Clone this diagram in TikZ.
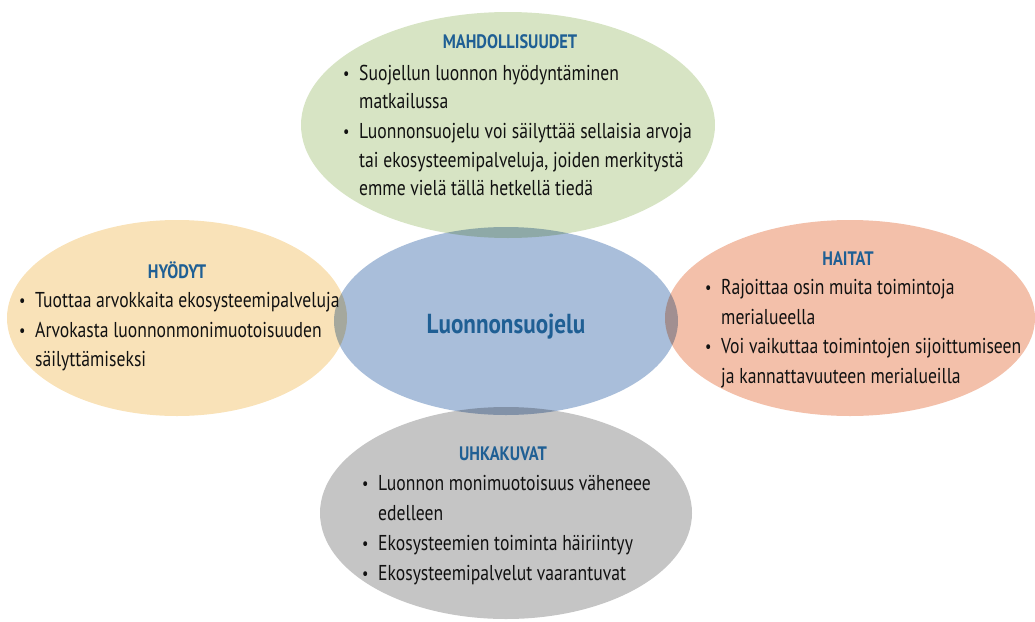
\documentclass[tikz,border=0pt]{standalone}
\usepackage{fontspec}
\usetikzlibrary{shapes.geometric}
\newfontfamily\bodyfont[FakeStretch=0.82]{PT Sans}
\newfontfamily\headfont[FakeStretch=0.84]{PT Sans Bold}
\definecolor{cgreen}{HTML}{D7E4C4}
\definecolor{cblue}{HTML}{A9BEDA}
\definecolor{cyellow}{HTML}{F9E2B8}
\definecolor{csalmon}{HTML}{F3C0AA}
\definecolor{cgray}{HTML}{C5C5C5}
\definecolor{ctitle}{HTML}{1F5F94}
\definecolor{ctext}{HTML}{111111}
\newcommand{\bul}{\makebox[16pt][l]{\raisebox{1pt}{\scalebox{0.8}{\textbullet}}}}
\begin{document}
\begin{tikzpicture}[x=1pt,y=-1pt,
  blob/.style={ellipse, draw=none, inner sep=0pt},
  txt/.style={anchor=base west, inner sep=0pt, text=ctext, font=\bodyfont\fontsize{21.5}{25}\selectfont},
  head/.style={anchor=base, inner sep=0pt, text=ctitle, font=\headfont\fontsize{19.5}{22}\selectfont},
  core/.style={anchor=base, inner sep=0pt, text=ctitle, font=\headfont\fontsize{27.5}{32}\selectfont}]
\useasboundingbox (0,0) rectangle (1035,621);
% overlapping coloured ellipses, multiplied where they meet
\begin{scope}[blend group=multiply]
  \node[blob, fill=cgreen,  minimum width=414pt, minimum height=226pt] (opp)  at (508,125) {};
  \node[blob, fill=cyellow, minimum width=340pt, minimum height=196pt] (ben)  at (177,318) {};
  \node[blob, fill=csalmon, minimum width=370pt, minimum height=196pt] (harm) at (850,318) {};
  \node[blob, fill=cgray,   minimum width=372pt, minimum height=212pt] (thr)  at (506,513) {};
  \node[blob, fill=cblue,   minimum width=344pt, minimum height=188pt] (core) at (506,321) {};
\end{scope}
% centre label
\node[core] (corelbl) at (506,333) {Luonnonsuojelu};
% opportunities
\node[head] (opph) at (510,48) {MAHDOLLISUUDET};
\node[txt] (o1) at (343,80)  {\bul Suojellun luonnon hyödyntäminen};
\node[txt] (o2) at (359,108) {matkailussa};
\node[txt] (o3) at (343,138) {\bul Luonnonsuojelu voi säilyttää sellaisia arvoja};
\node[txt] (o4) at (359,167) {tai ekosysteemipalveluja, joiden merkitystä};
\node[txt] (o5) at (359,195) {emme vielä tällä hetkellä tiedä};
% benefits
\node[head] (benh) at (177,278) {HYÖDYT};
\node[txt] (b1) at (19,307) {\bul Tuottaa arvokkaita ekosysteemipalveluja};
\node[txt] (b2) at (19,337) {\bul Arvokasta luonnonmonimuotoisuuden};
\node[txt] (b3) at (35,366) {säilyttämiseksi};
% drawbacks
\node[head] (harmh) at (848,265) {HAITAT};
\node[txt] (h1) at (705,294) {\bul Rajoittaa osin muita toimintoja};
\node[txt] (h2) at (721,324) {merialueella};
\node[txt] (h3) at (705,353) {\bul Voi vaikuttaa toimintojen sijoittumiseen};
\node[txt] (h4) at (721,383) {ja kannattavuuteen merialueilla};
% threats
\node[head] (thrh) at (503,460) {UHKAKUVAT};
\node[txt] (t1) at (362,490) {\bul Luonnon monimuotoisuus väheneee};
\node[txt] (t2) at (378,520) {edelleen};
\node[txt] (t3) at (362,550) {\bul Ekosysteemien toiminta häiriintyy};
\node[txt] (t4) at (362,580) {\bul Ekosysteemipalvelut vaarantuvat};
\end{tikzpicture}
\end{document}
